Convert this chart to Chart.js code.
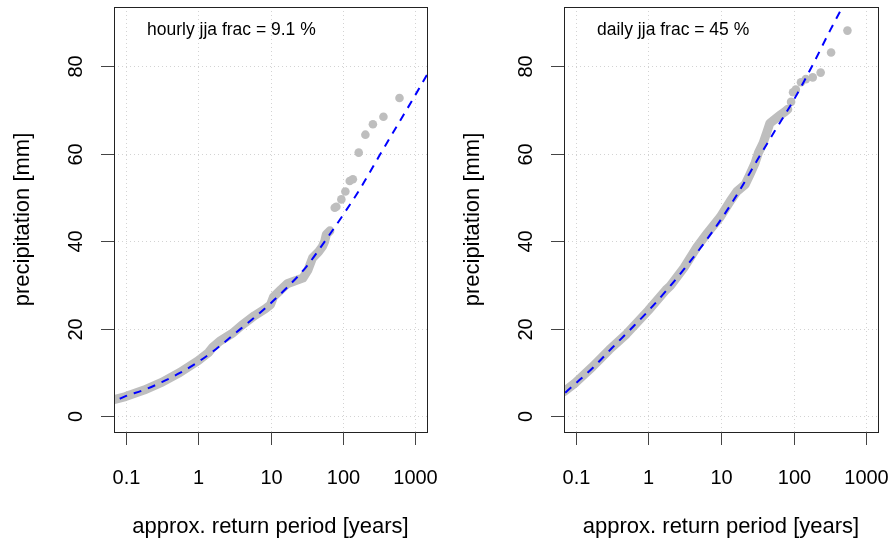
<!DOCTYPE html>
<html>
<head>
<meta charset="utf-8">
<script src="https://cdn.jsdelivr.net/npm/chart.js@4.4.0/dist/chart.umd.min.js"></script>
<style>
  html, body { margin: 0; padding: 0; background: #fff; }
  #wrap { position: relative; width: 895px; height: 545px; }
  canvas { position: absolute; left: 0; top: 0; }
</style>
</head>
<body>
<div id="wrap">
  <canvas id="hourly" width="895" height="545"></canvas>
  <canvas id="daily" width="895" height="545"></canvas>
</div>
<script>
// axis ticks shared by both panels
const xTicks = [0.1, 1, 10, 100, 1000];
const xTickLabels = ["0.1", "1", "10", "100", "1000"];
const yTicks = [0, 20, 40, 60, 80];
const yTickLabels = ["0", "20", "40", "60", "80"];
const xTitle = "approx. return period [years]";
const yTitle = "precipitation [mm]";

// hourly panel: dense part of the empirical points (read along the band)
const hourlyBandT = [0.069, 0.1, 0.18, 0.32, 0.56, 1.0, 1.4, 1.6, 2.0, 3.0, 4.0, 6.0, 8.5, 10, 11, 14, 17, 22, 28, 33, 38, 46, 52, 56, 59, 66];
const hourlyBandP = [3.8, 4.5, 6.0, 7.8, 10.0, 12.7, 14.6, 15.8, 17.2, 19.0, 20.8, 23.0, 24.6, 25.5, 27.3, 29.0, 30.3, 31.0, 31.6, 33.5, 36.2, 37.6, 38.8, 40.0, 41.6, 42.4];
// hourly panel: largest single events
const hourlyTailT = [77, 81, 95, 108, 124, 137, 165, 204, 259, 362, 603];
const hourlyTailP = [47.7, 47.9, 49.6, 51.4, 53.8, 54.2, 60.3, 64.4, 66.8, 68.5, 72.8];
// hourly panel: fitted curve
const hourlyFitT = [0.083, 0.1, 0.178, 0.316, 0.562, 1, 1.78, 3.16, 5.62, 10, 17.8, 31.6, 56.2, 100, 178, 316, 562, 1000, 1445];
const hourlyFitP = [4.0, 4.6, 6.0, 7.8, 9.9, 12.4, 15.4, 18.8, 22.2, 25.8, 29.8, 34.3, 40.0, 46.0, 52.4, 59.5, 66.5, 73.5, 78.1];

// daily panel
const dailyBandT = [0.069, 0.1, 0.17, 0.29, 0.5, 1.0, 1.75, 2.0, 3.1, 4.7, 6.5, 9.8, 13.4, 16.5, 21.5, 25, 29.4, 32.6, 38, 42.4, 47, 55, 64, 75, 83];
const dailyBandP = [5.6, 7.7, 11.3, 15.2, 18.8, 24.2, 28.9, 29.8, 34.0, 38.8, 41.9, 45.6, 49.2, 51.4, 53.0, 55.3, 57.9, 60.2, 62.5, 64.8, 67.0, 67.9, 68.8, 69.6, 70.2];
const dailyTailT = [92, 98, 107, 126, 147, 183, 235, 327, 549];
const dailyTailP = [71.9, 74.1, 74.7, 76.4, 77.1, 77.5, 78.6, 83.2, 88.2];
const dailyFitT = [0.072, 0.1, 0.178, 0.316, 0.562, 1, 1.78, 3.16, 5.62, 10, 17.8, 31.6, 56.2, 100, 178, 316, 500];
const dailyFitP = [5.4, 7.5, 11.3, 15.6, 19.8, 24.1, 28.8, 33.8, 39.2, 45.0, 51.5, 58.6, 65.5, 72.3, 80.0, 88.2, 94.5];

const FONT = '"Liberation Sans", Arial, Helvetica, sans-serif';

function toPoints(xs, ys) {
  return xs.map((v, i) => ({ x: v, y: ys[i] }));
}

function vtext(ctx, s, x, y) {
  ctx.save();
  ctx.translate(x, y);
  ctx.rotate(-Math.PI / 2);
  ctx.fillText(s, 0, 0);
  ctx.restore();
}

// R-style frame: dotted grid, box, outside ticks, labels
const rFrame = {
  id: "rFrame",
  beforeDatasetsDraw(chart) {
    const { ctx, chartArea: a } = chart;
    const x = chart.scales.x, y = chart.scales.y;
    ctx.save();
    ctx.strokeStyle = "#d3d3d3";
    ctx.lineWidth = 1;
    ctx.setLineDash([1, 3]);
    xTicks.forEach((v) => {
      const px = Math.round(x.getPixelForValue(v)) + 0.5;
      ctx.beginPath();
      ctx.moveTo(px, a.top);
      ctx.lineTo(px, a.bottom);
      ctx.stroke();
    });
    yTicks.forEach((v) => {
      const py = Math.round(y.getPixelForValue(v)) + 0.5;
      ctx.beginPath();
      ctx.moveTo(a.left, py);
      ctx.lineTo(a.right, py);
      ctx.stroke();
    });
    ctx.restore();
  },
  afterDraw(chart, args, opts) {
    const { ctx, chartArea: a } = chart;
    const x = chart.scales.x, y = chart.scales.y;
    ctx.save();
    ctx.strokeStyle = "#222";
    ctx.lineWidth = 1;
    ctx.strokeRect(Math.round(a.left) + 0.5, Math.round(a.top) + 0.5,
      Math.round(a.right - a.left), Math.round(a.bottom - a.top));

    ctx.strokeStyle = "#444";
    ctx.fillStyle = "#000";
    ctx.textAlign = "center";
    ctx.textBaseline = "alphabetic";
    ctx.font = "20px " + FONT;
    xTicks.forEach((v, i) => {
      const px = Math.round(x.getPixelForValue(v)) + 0.5;
      ctx.beginPath();
      ctx.moveTo(px, a.bottom);
      ctx.lineTo(px, a.bottom + 13);
      ctx.stroke();
      ctx.fillText(xTickLabels[i], px, a.bottom + 52);
    });
    yTicks.forEach((v, i) => {
      const py = Math.round(y.getPixelForValue(v)) + 0.5;
      ctx.beginPath();
      ctx.moveTo(a.left, py);
      ctx.lineTo(a.left - 13, py);
      ctx.stroke();
      vtext(ctx, yTickLabels[i], a.left - 32, py);
    });

    ctx.font = "22px " + FONT;
    ctx.fillText(xTitle, (a.left + a.right) / 2, a.bottom + 101);
    vtext(ctx, yTitle, a.left - 85, (a.top + a.bottom) / 2);

    ctx.font = "17.5px " + FONT;
    ctx.textAlign = "left";
    ctx.fillText(opts.note, a.left + 33, 35);
    ctx.restore();
  },
};

function makePanel(id, note, pad, bandT, bandP, tailT, tailP, fitT, fitP) {
  return new Chart(document.getElementById(id), {
    type: "scatter",
    data: {
      datasets: [
        {
          label: "fit",
          data: toPoints(fitT, fitP),
          showLine: true,
          borderColor: "#0000ff",
          borderWidth: 2,
          borderDash: [8, 7],
          cubicInterpolationMode: "monotone",
          pointRadius: 0,
          clip: 0,
        },
        {
          label: "events",
          data: toPoints(tailT, tailP),
          showLine: false,
          pointRadius: 4.3,
          pointBorderWidth: 0,
          pointBackgroundColor: "#bebebe",
          clip: 0,
        },
        {
          label: "band",
          data: toPoints(bandT, bandP),
          showLine: true,
          borderColor: "#bebebe",
          borderWidth: 9,
          borderCapStyle: "round",
          borderJoinStyle: "round",
          pointRadius: 0,
          clip: 0,
        },
      ],
    },
    options: {
      responsive: false,
      animation: false,
      devicePixelRatio: 1,
      events: [],
      layout: { padding: pad },
      plugins: {
        legend: { display: false },
        tooltip: { enabled: false },
        rFrame: { note: note },
      },
      scales: {
        x: { type: "logarithmic", min: Math.pow(10, -1.16), max: Math.pow(10, 3.16), display: false },
        y: { type: "linear", min: -3.6, max: 93.6, display: false },
      },
    },
    plugins: [rFrame],
  });
}

makePanel("hourly", "hourly jja frac = 9.1 %", { left: 114, right: 468, top: 7, bottom: 113 },
  hourlyBandT, hourlyBandP, hourlyTailT, hourlyTailP, hourlyFitT, hourlyFitP);
makePanel("daily", "daily jja frac = 45 %", { left: 564, right: 17, top: 7, bottom: 113 },
  dailyBandT, dailyBandP, dailyTailT, dailyTailP, dailyFitT, dailyFitP);
</script>
</body>
</html>
